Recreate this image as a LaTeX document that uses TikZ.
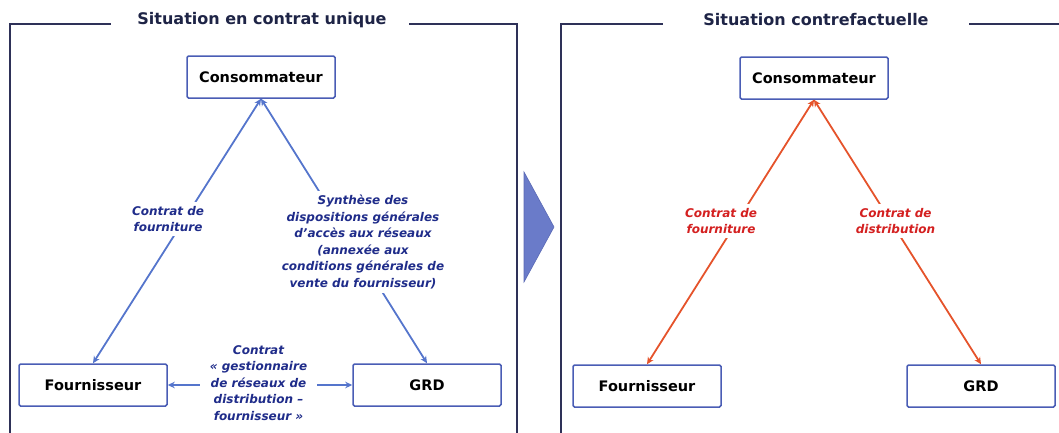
\documentclass[tikz,border=0pt]{standalone}
\usepackage{fontspec}
\setmainfont{DejaVu Sans}
\usetikzlibrary{arrows.meta}
\definecolor{framec}{HTML}{2E3158}
\definecolor{boxc}{HTML}{4A5DB5}
\definecolor{bluel}{HTML}{5575CC}
\definecolor{bluet}{HTML}{1F2C8A}
\definecolor{redl}{HTML}{E5532B}
\definecolor{redt}{HTML}{D42020}
\definecolor{chev}{HTML}{6A7BC9}
\definecolor{chevedge}{HTML}{5A69B5}
\definecolor{titlec}{HTML}{1E2446}
\begin{document}
\begin{tikzpicture}[x=1pt,y=-1pt,
  party/.style={draw=boxc, line width=1.5pt, rounded corners=1.5pt,
    minimum width=148pt, minimum height=42pt, fill=white,
    font=\fontsize{14.5}{16}\selectfont\bfseries},
  paneltitle/.style={font=\fontsize{16}{18}\selectfont\bfseries, text=titlec},
  frameline/.style={draw=framec, line width=1.3pt},
  bluelink/.style={draw=bluel, line width=1.8pt, {Stealth[length=7pt,width=6.5pt]}-{Stealth[length=7pt,width=6.5pt]}},
  redlink/.style={draw=redl, line width=1.8pt, {Stealth[length=7pt,width=6.5pt]}-{Stealth[length=7pt,width=6.5pt]}},
  linklabel/.style={font=\fontsize{12}{16.5}\selectfont\bfseries\itshape,
    align=center, fill=white, inner sep=4pt},
  bluelabel/.style={linklabel, text=bluet},
  redlabel/.style={linklabel, text=redt}
]
\useasboundingbox (0,0) rectangle (1059,432);
\clip (0,0) rectangle (1059,432);

% panel frames
\draw[frameline] (10,440) -- (10,24) -- (111,24);
\draw[frameline] (409,24) -- (517,24) -- (517,440);
\draw[frameline] (561,440) -- (561,24) -- (663,24);
\draw[frameline] (969,24) -- (1070,24);
\node[paneltitle] (t1) at (262,20) {Situation en contrat unique};
\node[paneltitle] (t2) at (816,20) {Situation contrefactuelle};

% transition chevron
\filldraw[fill=chev, draw=chevedge, line width=0.6pt] (524,172) -- (554,227) -- (524,282) -- cycle;

% single-contract situation
\node[party] (lc) at (261,77)  {Consommateur};
\node[party] (lf) at (93,385)  {Fournisseur};
\node[party] (lg) at (427,385) {GRD};
\draw[bluelink] (lc.south) -- (lf.north);
\draw[bluelink] (lc.south) -- (lg.north);
\draw[bluelink] (lf.east) -- (lg.west);
\node[bluelabel] (l1) at (168,219) {Contrat de\\fourniture};
\node[bluelabel] (l2) at (363,242) {Synthèse des\\dispositions générales\\d’accès aux réseaux\\(annexée aux\\conditions générales de\\vente du fournisseur)};
\node[bluelabel, inner xsep=10pt] (l3) at (258.5,383) {Contrat\\« gestionnaire\\de réseaux de\\distribution –\\fournisseur »};

% counterfactual situation
\node[party] (rc) at (814,78)  {Consommateur};
\node[party] (rf) at (647,386) {Fournisseur};
\node[party] (rg) at (981,386) {GRD};
\draw[redlink] (rc.south) -- (rf.north);
\draw[redlink] (rc.south) -- (rg.north);
\node[redlabel] (r1) at (721,221) {Contrat de\\fourniture};
\node[redlabel] (r2) at (895.5,221) {Contrat de\\distribution};
\end{tikzpicture}
\end{document}
